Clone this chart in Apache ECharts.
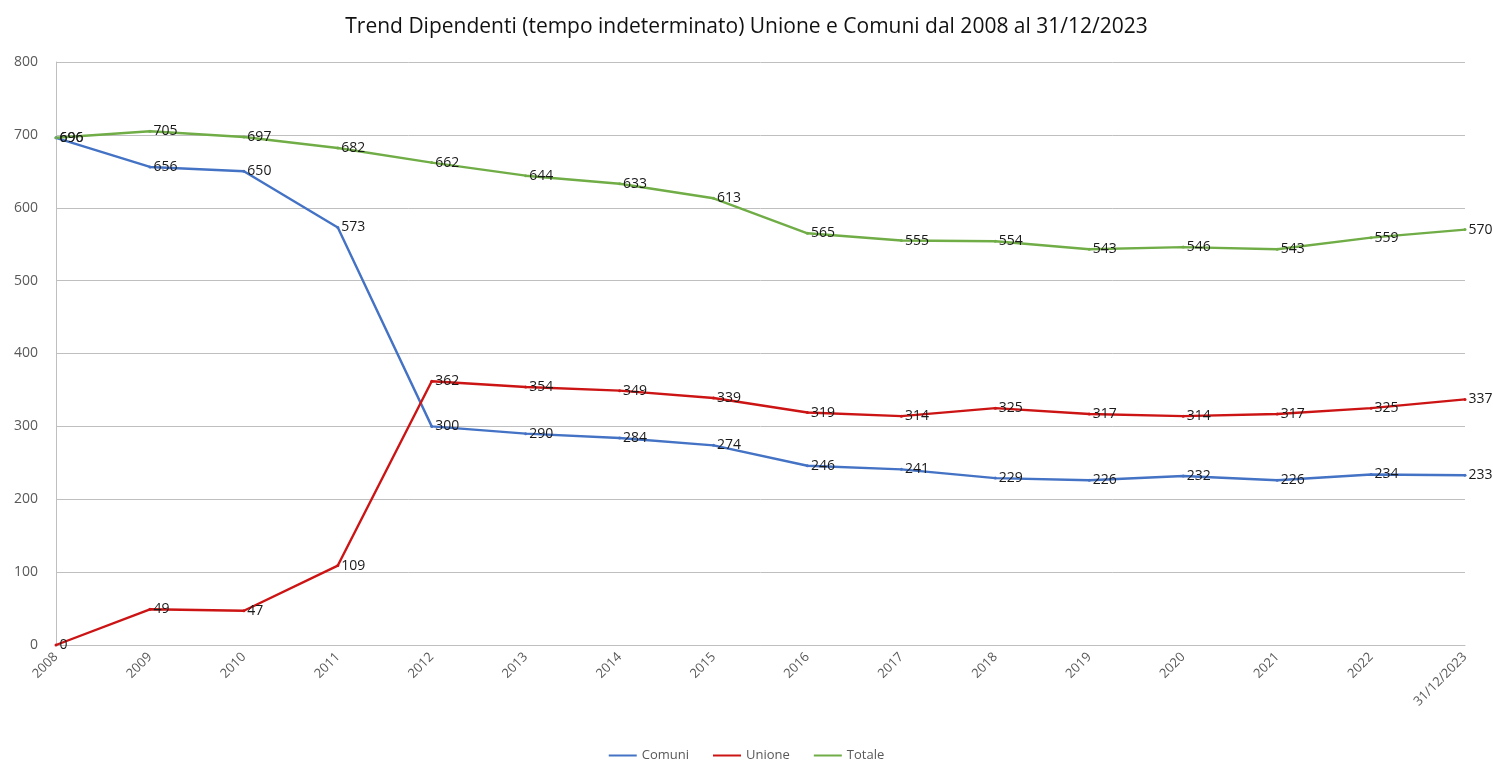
<!DOCTYPE html>
<html>
<head>
<meta charset="utf-8">
<script src="https://cdn.jsdelivr.net/npm/echarts@6/dist/echarts.min.js"></script>
<style>
  html, body { margin: 0; padding: 0; background: #fff; }
  #chart { width: 1493px; height: 761px; }
</style>
</head>
<body>
<div id="chart"></div>
<script>
// categorie (anni)
var anni = ['2008', '2009', '2010', '2011', '2012', '2013', '2014', '2015',
            '2016', '2017', '2018', '2019', '2020', '2021', '2022', '31/12/2023'];
var comuni = [696, 656, 650, 573, 300, 290, 284, 274, 246, 241, 229, 226, 232, 226, 234, 233];
var unione = [0, 49, 47, 109, 362, 354, 349, 339, 319, 314, 325, 317, 314, 317, 325, 337];
var totale = [696, 705, 697, 682, 662, 644, 633, 613, 565, 555, 554, 543, 546, 543, 559, 570];

var font = 'Open Sans, Liberation Sans, sans-serif';

function serie(nome, dati, colore) {
  return {
    name: nome,
    type: 'line',
    data: dati,
    symbol: 'circle',
    symbolSize: 3,
    lineStyle: { color: colore, width: 2.4 },
    itemStyle: { color: colore },
    label: {
      show: true,
      position: 'right',
      distance: 2,
      color: '#1a1a1a',
      fontFamily: font,
      fontSize: 14
    }
  };
}

var myChart = echarts.init(document.getElementById('chart'));
var option = {
  backgroundColor: '#fff',
  animation: false,
  title: {
    text: 'Trend Dipendenti (tempo indeterminato) Unione e Comuni dal 2008 al 31/12/2023',
    left: 'center',
    top: 12,
    textStyle: { fontFamily: font, fontSize: 21, fontWeight: 'normal', color: '#111' }
  },
  legend: {
    top: 744,
    left: 'center',
    itemWidth: 28,
    itemHeight: 2,
    itemGap: 24,
    icon: 'rect',
    textStyle: { fontFamily: font, fontSize: 13, color: '#595959' },
    data: ['Comuni', 'Unione', 'Totale']
  },
  grid: { left: 56, right: 28, top: 62, bottom: 116 },
  xAxis: {
    type: 'category',
    data: anni,
    boundaryGap: false,
    axisLine: { lineStyle: { color: '#bfbfbf' } },
    axisTick: { show: false },
    axisLabel: {
      rotate: 45,
      interval: 0,
      margin: 10,
      color: '#595959',
      fontFamily: font,
      fontSize: 13
    }
  },
  yAxis: {
    type: 'value',
    min: 0,
    max: 800,
    interval: 100,
    axisLine: { show: true, lineStyle: { color: '#bfbfbf' } },
    axisTick: { show: false },
    splitLine: { lineStyle: { color: '#bfbfbf' } },
    axisLabel: { color: '#595959', fontFamily: font, fontSize: 14, margin: 18 }
  },
  series: [
    serie('Comuni', comuni, '#4472c4'),
    serie('Unione', unione, '#cc1414'),
    serie('Totale', totale, '#70ad47')
  ]
};
myChart.setOption(option);
</script>
</body>
</html>
